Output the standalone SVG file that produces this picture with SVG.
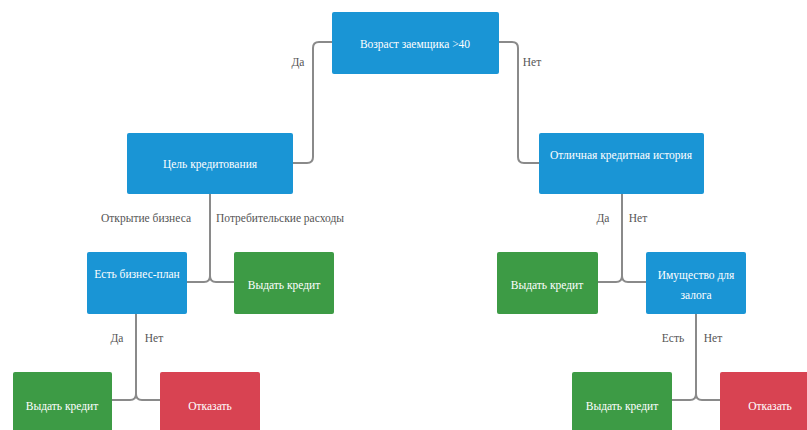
<svg xmlns="http://www.w3.org/2000/svg" width="807" height="430" viewBox="0 0 807 430">
<style>
.bg{fill:#ffffff}
.blue{fill:#1a95d5}
.green{fill:#3d9b45}
.red{fill:#d84352}
text{font-family:'Liberation Serif','Times New Roman','DejaVu Serif',serif}
.nt{font-size:11.5px;fill:#ffffff;text-anchor:middle;dominant-baseline:central}
.lb{font-size:11.5px;fill:#555555;text-anchor:middle;dominant-baseline:central}
.cn{fill:none;stroke:#8a8a8a;stroke-width:2}
</style>
<rect class="bg" x="0" y="0" width="807" height="430"/>
<g id="connectors">
<path class="cn" d="M332,42 H319 Q313,42 313,48 V157 Q313,163 307,163 H293"/>
<path class="cn" d="M499,42 H512 Q518,42 518,48 V157 Q518,163 524,163 H539"/>
<path class="cn" d="M210,194 V276 Q210,282 204,282 H187 M210,276 Q210,282 216,282 H234"/>
<path class="cn" d="M622,194 V276 Q622,282 616,282 H598 M622,276 Q622,282 628,282 H646"/>
<path class="cn" d="M136,314 V394 Q136,400 130,400 H112 M136,394 Q136,400 142,400 H160"/>
<path class="cn" d="M696,314 V394 Q696,400 690,400 H672 M696,394 Q696,400 702,400 H720"/>
</g>
<g id="edge-labels">
<text class="lb" x="298" y="62">Да</text>
<text class="lb" x="532" y="62">Нет</text>
<text class="lb" x="146" y="218">Открытие бизнеса</text>
<text class="lb" x="280" y="218">Потребительские расходы</text>
<text class="lb" x="603" y="218">Да</text>
<text class="lb" x="638" y="218">Нет</text>
<text class="lb" x="117" y="338">Да</text>
<text class="lb" x="154" y="338">Нет</text>
<text class="lb" x="673" y="338">Есть</text>
<text class="lb" x="713" y="338">Нет</text>
</g>
<g id="n-age">
<rect class="blue" x="332" y="12" width="167" height="62" rx="2"/>
<text class="nt" x="415" y="44">Возраст заемщика &gt;40</text>
</g>
<g id="n-purpose">
<rect class="blue" x="127" y="133" width="166" height="61" rx="2"/>
<text class="nt" x="210" y="164">Цель кредитования</text>
</g>
<g id="n-history">
<rect class="blue" x="539" y="133" width="165" height="61" rx="2"/>
<text class="nt" x="621" y="155">Отличная кредитная история</text>
</g>
<g id="n-bplan">
<rect class="blue" x="87" y="252" width="100" height="62" rx="2"/>
<text class="nt" x="137" y="274">Есть бизнес-план</text>
</g>
<g id="n-grant1">
<rect class="green" x="234" y="252" width="100" height="62" rx="2"/>
<text class="nt" x="284" y="285">Выдать кредит</text>
</g>
<g id="n-grant2">
<rect class="green" x="497" y="252" width="101" height="62" rx="2"/>
<text class="nt" x="547" y="285">Выдать кредит</text>
</g>
<g id="n-collateral">
<rect class="blue" x="646" y="252" width="100" height="62" rx="2"/>
<text class="nt" x="696" y="275">Имущество для</text>
<text class="nt" x="696" y="295">залога</text>
</g>
<g id="n-grant3">
<rect class="green" x="13" y="372" width="99" height="64" rx="2"/>
<text class="nt" x="62" y="406">Выдать кредит</text>
</g>
<g id="n-deny1">
<rect class="red" x="160" y="372" width="100" height="64" rx="2"/>
<text class="nt" x="210" y="406">Отказать</text>
</g>
<g id="n-grant4">
<rect class="green" x="572" y="372" width="100" height="64" rx="2"/>
<text class="nt" x="622" y="406">Выдать кредит</text>
</g>
<g id="n-deny2">
<rect class="red" x="720" y="372" width="100" height="64" rx="2"/>
<text class="nt" x="770" y="406">Отказать</text>
</g>
</svg>
